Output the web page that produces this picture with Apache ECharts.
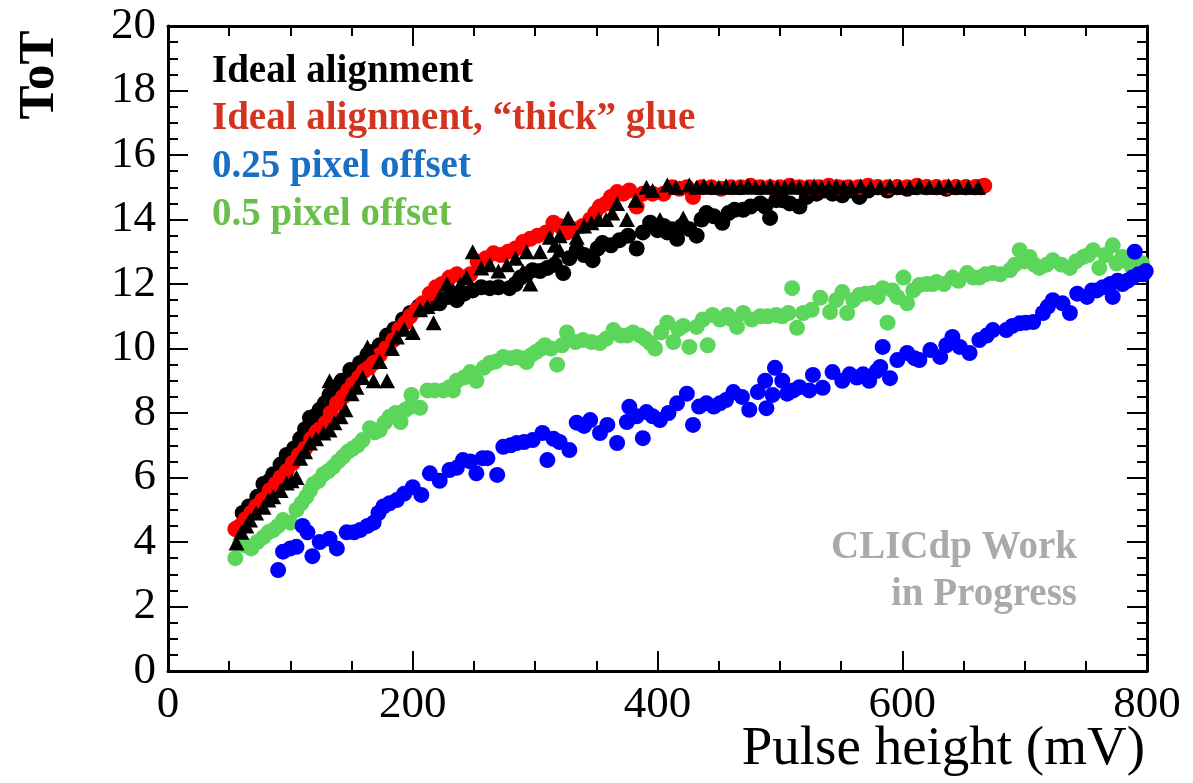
<!DOCTYPE html>
<html>
<head>
<meta charset="utf-8">
<script src="https://cdn.jsdelivr.net/npm/echarts@6/dist/echarts.min.js"></script>
<style>
  html, body { margin: 0; padding: 0; background: #fff; }
  #main { width: 1193px; height: 783px; }
</style>
</head>
<body>
<div id="main"></div>
<script>
// Ideal alignment (black circles)
var idealX = [56, 61, 66, 73, 78, 83, 86, 92, 97, 103, 108, 112, 116, 120, 124, 128, 132, 137, 142, 149, 153, 157, 163, 168, 173, 179, 185, 192, 198, 205, 212, 217, 222, 229, 236, 242, 249, 256, 263, 270, 279, 284, 288, 293, 298, 304, 310, 316, 323, 328, 334, 340, 347, 351, 355, 362, 369, 376, 383, 388, 394, 400, 405, 408, 412, 416, 420, 426, 432, 436, 440, 446, 453, 458, 463, 470, 476, 484, 488, 492, 497, 502, 508, 516, 522, 530, 536, 543, 551, 558, 565, 572, 580, 588, 596, 604, 612, 620, 628, 636, 644, 652, 660, 664];
var idealY = [4.4, 4.9, 5.1, 5.4, 5.8, 5.9, 6.1, 6.4, 6.7, 6.9, 7.2, 7.5, 7.85, 7.9, 8.1, 8.3, 8.56, 8.8, 9.0, 9.33, 9.2, 9.55, 9.8, 9.9, 10.1, 10.4, 10.6, 10.9, 11.1, 11.3, 11.3, 11.4, 11.4, 11.6, 11.5, 11.7, 11.8, 11.9, 11.87, 11.9, 11.87, 12.0, 12.2, 12.3, 12.43, 12.4, 12.5, 12.6, 12.34, 12.8, 13.05, 12.9, 12.74, 13.1, 13.27, 13.2, 13.36, 13.5, 13.1, 13.6, 13.9, 13.67, 13.8, 13.6, 13.7, 13.4, 13.8, 13.7, 13.5, 14.0, 14.2, 14.1, 13.9, 14.2, 14.3, 14.3, 14.4, 14.5, 14.4, 14.05, 14.6, 14.6, 14.5, 14.4, 14.7, 14.8, 14.9, 14.8, 14.75, 14.9, 14.7, 14.9, 15.0, 14.9, 15.0, 14.95, 15.0, 15.0, 15.0, 14.95, 15.0, 15.0, 15.0, 15.0];

// Ideal alignment, "thick" glue (red circles)
var thickX = [55, 59, 63, 68, 72, 77, 83, 88, 92, 97, 102, 107, 112, 117, 121, 124, 129, 133, 138, 143, 147, 151, 156, 160, 164, 168, 173, 178, 184, 189, 194, 198, 203, 208, 214, 219, 224, 230, 236, 241, 247, 253, 260, 266, 272, 278, 284, 290, 296, 302, 309, 315, 320, 326, 332, 339, 345, 349, 353, 358, 362, 367, 372, 377, 383, 388, 396, 405, 412, 418, 424, 429, 436, 444, 452, 460, 468, 476, 484, 492, 500, 508, 516, 524, 532, 540, 548, 556, 564, 572, 580, 588, 596, 604, 612, 620, 628, 636, 644, 652, 660, 667];
var thickY = [4.4, 4.5, 4.7, 4.9, 5.1, 5.3, 5.6, 5.8, 6.0, 6.2, 6.45, 6.7, 6.9, 7.2, 7.4, 7.5, 7.7, 8.0, 8.3, 8.5, 8.7, 8.9, 9.1, 9.3, 9.4, 9.55, 9.8, 10.0, 10.26, 10.6, 10.8, 11.0, 11.2, 11.4, 11.7, 11.9, 12.0, 12.2, 12.3, 12.2, 12.3, 12.7, 12.8, 12.95, 12.9, 13.0, 13.1, 13.3, 13.4, 13.5, 13.6, 13.9, 13.8, 13.6, 13.7, 13.8, 14.0, 14.2, 14.4, 14.5, 14.7, 14.85, 14.8, 14.9, 14.4, 14.8, 14.8, 14.8, 15.0, 14.95, 15.0, 14.7, 15.0, 15.0, 14.95, 15.0, 15.0, 15.05, 15.0, 15.0, 15.0, 15.05, 15.0, 15.0, 15.0, 15.05, 15.0, 15.0, 15.0, 15.05, 15.0, 15.0, 15.0, 15.0, 15.05, 15.0, 15.0, 15.0, 15.0, 15.0, 15.0, 15.05];

// black triangles
var triX = [56, 60, 64, 67, 72, 78, 82, 86, 92, 97, 101, 105, 108, 112, 116, 121, 127, 132, 132, 136, 141, 145, 150, 154, 159, 163, 168, 173, 179, 183, 187, 193, 200, 206, 212, 217, 222, 228, 233, 239, 244, 249, 256, 263, 270, 277, 284, 290, 293, 296, 304, 312, 316, 320, 320, 327, 334, 340, 346, 352, 358, 363, 367, 375, 382, 391, 396, 402, 408, 415, 421, 426, 432, 438, 444, 450, 456, 462, 468, 474, 480, 486, 492, 498, 504, 510, 516, 522, 528, 534, 540, 546, 552, 558, 566, 574, 582, 590, 598, 606, 614, 622, 630, 638, 646, 654, 662];
var triY = [3.97, 4.3, 4.5, 4.68, 4.9, 5.08, 5.3, 5.4, 5.6, 5.83, 5.9, 6.0, 6.6, 6.8, 7.07, 7.2, 7.38, 7.47, 9.0, 7.7, 7.88, 8.1, 8.6, 8.8, 9.1, 10.05, 9.0, 9.6, 9.0, 10.0, 10.36, 10.6, 10.5, 11.2, 11.3, 10.8, 11.6, 12.0, 11.8, 12.0, 12.2, 13.0, 12.5, 12.6, 12.4, 12.6, 12.8, 12.4, 13.0, 12.0, 13.0, 13.45, 13.2, 13.5, 13.05, 14.05, 13.45, 13.8, 13.9, 14.0, 14.0, 14.2, 14.5, 14.0, 14.6, 15.0, 14.9, 14.0, 15.07, 15.0, 14.05, 15.07, 15.0, 15.05, 15.0, 15.0, 15.05, 15.0, 15.0, 15.05, 15.0, 15.0, 15.05, 15.0, 15.0, 15.05, 15.0, 15.0, 15.05, 15.0, 15.0, 15.05, 15.0, 15.0, 15.05, 15.0, 15.0, 15.05, 15.0, 15.0, 15.05, 15.0, 15.0, 15.05, 15.0, 15.0, 15.0];

// 0.25 pixel offset (blue)
var off25X = [90, 94, 100, 105, 110, 114, 118, 124, 132, 138, 146, 152, 157, 163, 168, 172, 176, 181, 187, 193, 200, 207, 214, 222, 230, 236, 241, 247, 252, 257, 261, 269, 274, 280, 285, 291, 298, 306, 310, 315, 320, 328, 334, 340, 345, 353, 359, 367, 375, 377, 383, 388, 391, 396, 402, 409, 416, 424, 429, 434, 440, 446, 451, 456, 462, 469, 475, 482, 489, 488, 494, 496, 502, 506, 511, 516, 524, 527, 535, 543, 551, 557, 563, 568, 573, 579, 582, 584, 590, 596, 604, 610, 614, 623, 631, 636, 641, 647, 655, 663, 669, 674, 685, 690, 696, 701, 707, 715, 719, 723, 731, 737, 743, 751, 755, 759, 764, 770, 772, 776, 780, 784, 788, 790, 793, 797, 799];
var off25Y = [3.13, 3.7, 3.8, 3.85, 4.5, 4.3, 3.56, 4.0, 4.1, 3.8, 4.3, 4.3, 4.37, 4.5, 4.6, 4.9, 5.1, 5.2, 5.3, 5.5, 5.7, 5.46, 6.13, 5.9, 6.23, 6.3, 6.54, 6.5, 6.13, 6.6, 6.6, 6.08, 6.95, 7.0, 7.07, 7.1, 7.16, 7.38, 6.54, 7.2, 7.1, 6.85, 7.7, 7.6, 7.78, 7.38, 7.63, 7.07, 7.72, 8.19, 7.9, 7.22, 8.03, 7.9, 7.78, 8.0, 8.3, 8.6, 7.63, 8.2, 8.3, 8.2, 8.3, 8.4, 8.65, 8.5, 8.1, 8.65, 8.15, 9.0, 8.56, 9.4, 9.0, 8.6, 8.7, 8.8, 8.7, 9.18, 8.78, 9.27, 9.0, 9.2, 9.1, 9.2, 9.0, 9.3, 9.43, 10.05, 9.08, 9.64, 9.86, 9.7, 9.64, 9.95, 9.74, 10.1, 10.36, 10.05, 9.86, 10.26, 10.4, 10.57, 10.57, 10.7, 10.78, 10.8, 10.82, 11.1, 11.3, 11.5, 11.4, 11.1, 11.7, 11.6, 11.8, 11.8, 11.9, 12.0, 11.6, 12.1, 12.0, 12.1, 12.2, 13.0, 12.3, 12.3, 12.4];

// 0.5 pixel offset (green)
var off50X = [55, 59, 63, 68, 73, 78, 82, 86, 90, 94, 100, 105, 109, 113, 116, 119, 123, 127, 131, 135, 139, 143, 147, 151, 155, 159, 165, 169, 173, 177, 181, 186, 190, 194, 198, 199, 206, 212, 218, 225, 230, 233, 236, 242, 247, 252, 258, 263, 268, 274, 280, 285, 289, 293, 297, 301, 305, 308, 313, 318, 322, 326, 333, 339, 346, 353, 358, 364, 370, 375, 380, 386, 390, 394, 398, 403, 408, 413, 417, 421, 426, 432, 437, 441, 445, 451, 457, 461, 465, 470, 477, 484, 490, 497, 502, 507, 510, 514, 519, 526, 533, 541, 546, 551, 555, 560, 565, 570, 576, 580, 584, 588, 592, 596, 601, 604, 609, 614, 620, 625, 628, 634, 641, 646, 653, 658, 663, 668, 674, 680, 688, 692, 696, 700, 704, 708, 712, 718, 723, 730, 737, 742, 748, 752, 756, 761, 766, 772, 775, 780, 784, 788, 792, 796];
var off50Y = [3.5, 3.97, 3.9, 3.8, 4.0, 4.15, 4.3, 4.37, 4.5, 4.68, 4.6, 5.0, 5.2, 5.4, 5.6, 5.8, 5.9, 6.1, 6.2, 6.33, 6.5, 6.64, 6.8, 6.9, 7.0, 7.16, 7.53, 7.4, 7.47, 7.7, 7.88, 8.0, 7.72, 8.1, 8.19, 8.56, 8.16, 8.7, 8.7, 8.7, 8.8, 8.7, 9.0, 9.1, 9.27, 9.0, 9.4, 9.55, 9.6, 9.74, 9.7, 9.74, 9.7, 9.58, 9.8, 9.9, 10.0, 10.1, 10.0, 9.5, 10.1, 10.5, 10.2, 10.26, 10.2, 10.17, 10.3, 10.57, 10.4, 10.4, 10.5, 10.4, 10.3, 10.17, 10.0, 10.5, 10.8, 10.2, 10.6, 10.7, 10.05, 10.67, 10.9, 10.1, 11.04, 10.9, 11.04, 10.9, 10.67, 11.1, 10.9, 11.0, 11.0, 11.04, 11.0, 11.1, 11.87, 10.64, 11.1, 11.2, 11.57, 11.13, 11.5, 11.75, 11.1, 11.5, 11.66, 11.7, 11.72, 11.6, 11.87, 10.8, 11.8, 11.6, 12.2, 11.4, 11.8, 11.97, 12.0, 12.0, 12.06, 12.0, 12.2, 12.1, 12.34, 12.2, 12.2, 12.3, 12.34, 12.3, 12.43, 12.6, 13.05, 12.7, 12.84, 12.6, 12.5, 12.6, 12.74, 12.6, 12.5, 12.7, 12.84, 12.9, 13.05, 12.5, 12.9, 13.2, 12.64, 12.84, 12.7, 12.5, 12.7, 12.64];

var xTicks = [0, 200, 400, 600, 800];
var yTicks = [0, 2, 4, 6, 8, 10, 12, 14, 16, 18, 20];

function pairs(xs, ys) {
  var out = [];
  for (var i = 0; i < xs.length; i++) out.push([xs[i], ys[i]]);
  return out;
}

var serif = '"Liberation Serif", "DejaVu Serif", serif';

function makeAxis(pos, min, max, step, showLabels) {
  return {
    type: 'value',
    position: pos,
    min: min,
    max: max,
    interval: step,
    axisLine: { show: true, onZero: false, lineStyle: { color: '#000', width: 3 } },
    axisTick: { show: true, inside: true, length: 20, lineStyle: { color: '#000', width: 2 } },
    minorTick: { show: true, splitNumber: 4, length: 10, lineStyle: { color: '#000', width: 2 } },
    splitLine: { show: false },
    minorSplitLine: { show: false },
    axisLabel: {
      show: showLabels,
      color: '#000',
      fontFamily: serif,
      fontSize: 45,
      margin: 12
    }
  };
}

function dots(name, color, xs, ys, sym, size) {
  return {
    name: name, type: 'scatter', symbol: sym, symbolSize: size,
    itemStyle: { color: color, opacity: 1 },
    emphasis: { disabled: true },
    data: pairs(xs, ys)
  };
}

var myChart = echarts.init(document.getElementById('main'));

var option = {
  backgroundColor: '#fff',
  animation: false,
  grid: { left: 168, right: 46, top: 26, bottom: 112 },
  xAxis: [
    makeAxis('bottom', xTicks[0], xTicks[xTicks.length - 1], xTicks[1] - xTicks[0], true),
    makeAxis('top', xTicks[0], xTicks[xTicks.length - 1], xTicks[1] - xTicks[0], false)
  ],
  yAxis: [
    makeAxis('left', yTicks[0], yTicks[yTicks.length - 1], yTicks[1] - yTicks[0], true),
    makeAxis('right', yTicks[0], yTicks[yTicks.length - 1], yTicks[1] - yTicks[0], false)
  ],
  series: [
    dots('0.5 pixel offset', '#5cd65a', off50X, off50Y, 'circle', 16),
    dots('0.25 pixel offset', '#0000ff', off25X, off25Y, 'circle', 16),
    dots('Ideal alignment', '#000000', idealX, idealY, 'circle', 16),
    dots('Ideal alignment, thick glue', '#ff0000', thickX, thickY, 'circle', 16),
    dots('triangles', '#000000', triX, triY, 'triangle', [16, 15])
  ],
  graphic: [
    { type: 'text', x: 40, y: 75, rotation: Math.PI / 2,
      style: { text: 'ToT', fill: '#000', font: 'bold 51px ' + serif, align: 'center', verticalAlign: 'middle' } },
    { type: 'text', x: 1145, y: 750,
      style: { text: 'Pulse height (mV)', fill: '#000', font: '55px ' + serif, align: 'right', verticalAlign: 'middle' } },
    { type: 'text', x: 212, y: 72,
      style: { text: 'Ideal alignment', fill: '#000', font: 'bold 39px ' + serif, verticalAlign: 'middle' } },
    { type: 'text', x: 212, y: 119,
      style: { text: 'Ideal alignment, \u201cthick\u201d glue', fill: '#d4341f', font: 'bold 39px ' + serif, verticalAlign: 'middle' } },
    { type: 'text', x: 212, y: 167,
      style: { text: '0.25 pixel offset', fill: '#1a6fc4', font: 'bold 39px ' + serif, verticalAlign: 'middle' } },
    { type: 'text', x: 212, y: 215,
      style: { text: '0.5 pixel offset', fill: '#6abf4b', font: 'bold 39px ' + serif, verticalAlign: 'middle' } },
    { type: 'text', x: 1077, y: 548,
      style: { text: 'CLICdp Work', fill: '#aaaaaa', font: 'bold 39px ' + serif, align: 'right', verticalAlign: 'middle' } },
    { type: 'text', x: 1077, y: 595,
      style: { text: 'in Progress', fill: '#aaaaaa', font: 'bold 39px ' + serif, align: 'right', verticalAlign: 'middle' } }
  ]
};

myChart.setOption(option);
</script>
</body>
</html>
